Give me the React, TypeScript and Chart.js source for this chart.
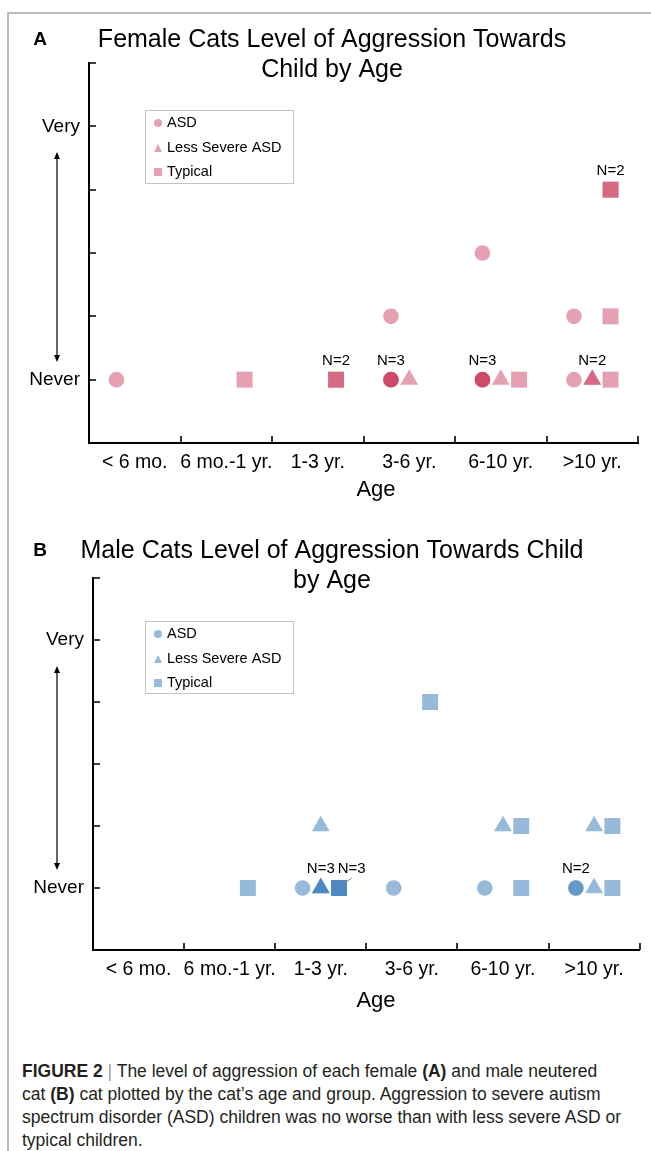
import React, { useEffect, useRef } from "react";
import { Chart, registerables } from "chart.js";

Chart.register(...registerables);

// ---------- DATA ----------
const ageCategories = ["< 6 mo.", "6 mo.-1 yr.", "1-3 yr.", "3-6 yr.", "6-10 yr.", ">10 yr."];
const levelTickLabels = ["Never", "", "", "", "Very"]; // aggression level 0 … 4
const groupNames = ["ASD", "Less Severe ASD", "Typical"];

// Female cats: one entry per cat (age category index, aggression level)
const femaleAsdAges = [0, 3, 3, 3, 3, 4, 4, 4, 4, 5, 5];
const femaleAsdLevels = [0, 0, 0, 0, 1, 0, 0, 0, 2, 0, 1];
const femaleLessAges = [3, 4, 5, 5];
const femaleLessLevels = [0, 0, 0, 0];
const femaleTypicalAges = [1, 2, 2, 4, 5, 5, 5, 5];
const femaleTypicalLevels = [0, 0, 0, 0, 0, 1, 3, 3];

// Male cats
const maleAsdAges = [2, 3, 4, 5, 5];
const maleAsdLevels = [0, 0, 0, 0, 0];
const maleLessAges = [2, 2, 2, 2, 4, 5, 5];
const maleLessLevels = [0, 0, 0, 1, 1, 0, 1];
const maleTypicalAges = [1, 2, 2, 2, 3, 4, 4, 5, 5];
const maleTypicalLevels = [0, 0, 0, 0, 3, 0, 1, 0, 1];

const femaleTitle = ["Female Cats Level of Aggression Towards", "Child by Age"];
const maleTitle = ["Male Cats Level of Aggression Towards Child", "by Age"];

// ---------- STYLE ----------
const FONT = '"Liberation Sans", Arial, Helvetica, sans-serif';
const GROUP_OFFSETS = [0.3, 0.5, 0.7];
const POINT_STYLES = ["circle", "triangle", "rect"];
const POINT_RADII = [7.8, 10.3, 11.3];
const Y_TICK_MARKS = [0, 1, 2, 3, 4, 5];
const X_TICK_MARKS = [1, 2, 3, 4, 5, 6];

type Geom = {
  canvasTop: number;
  canvasHeight: number;
  area: { left: number; right: number; top: number; bottom: number };
  letter: { x: number; y: number };
  titleX: number;
  titleY: number[];
  legend: { x: number; y: number; w: number; h: number };
  ageLabel: { x: number; y: number };
  arrow: { x: number; y1: number; y2: number };
};

type Spec = {
  letter: string;
  title: string[];
  color: string;
  ages: number[][];
  levels: number[][];
  geom: Geom;
};

const femaleSpec: Spec = {
  letter: "A",
  title: femaleTitle,
  color: "rgba(194,30,68,0.42)",
  ages: [femaleAsdAges, femaleLessAges, femaleTypicalAges],
  levels: [femaleAsdLevels, femaleLessLevels, femaleTypicalLevels],
  geom: {
    canvasTop: 0,
    canvasHeight: 512,
    area: { left: 89, right: 638, top: 63, bottom: 443 },
    letter: { x: 40, y: 40 },
    titleX: 332,
    titleY: [40, 70],
    legend: { x: 145, y: 110, w: 148, h: 73 },
    ageLabel: { x: 376, y: 490 },
    arrow: { x: 57, y1: 152, y2: 362 },
  },
};

const maleSpec: Spec = {
  letter: "B",
  title: maleTitle,
  color: "rgba(55,123,184,0.52)",
  ages: [maleAsdAges, maleLessAges, maleTypicalAges],
  levels: [maleAsdLevels, maleLessLevels, maleTypicalLevels],
  geom: {
    canvasTop: 512,
    canvasHeight: 520,
    area: { left: 93, right: 640, top: 578, bottom: 950 },
    letter: { x: 40, y: 551 },
    titleX: 332,
    titleY: [551, 581],
    legend: { x: 145, y: 621, w: 148, h: 72 },
    ageLabel: { x: 376, y: 1001 },
    arrow: { x: 57, y1: 666, y2: 870 },
  },
};

function drawMarker(ctx: CanvasRenderingContext2D, style: string, x: number, y: number, s: number) {
  ctx.beginPath();
  if (style === "circle") {
    ctx.arc(x, y, s / 2, 0, Math.PI * 2);
  } else if (style === "triangle") {
    ctx.moveTo(x, y - s / 2);
    ctx.lineTo(x + s / 2, y + s / 2);
    ctx.lineTo(x - s / 2, y + s / 2);
    ctx.closePath();
  } else {
    ctx.rect(x - s / 2, y - s / 2, s, s);
  }
  ctx.fill();
}

function decorPlugin(spec: Spec) {
  const g = spec.geom;
  const oy = g.canvasTop;
  return {
    id: "panelDecor",
    afterDraw(chart: any) {
      const ctx: CanvasRenderingContext2D = chart.ctx;
      const xs = chart.scales.x;
      const ys = chart.scales.y;
      const area = chart.chartArea;
      ctx.save();
      // inward tick marks
      ctx.strokeStyle = "#000";
      ctx.lineWidth = 1.6;
      ctx.beginPath();
      for (const v of Y_TICK_MARKS) {
        const py = Math.round(ys.getPixelForValue(v));
        ctx.moveTo(area.left, py);
        ctx.lineTo(area.left + 7, py);
      }
      for (const v of X_TICK_MARKS) {
        const px = Math.round(xs.getPixelForValue(v));
        ctx.moveTo(px, area.bottom);
        ctx.lineTo(px, area.bottom - 7);
      }
      ctx.stroke();

      // double arrow
      const ax = g.arrow.x;
      const a1 = g.arrow.y1 - oy;
      const a2 = g.arrow.y2 - oy;
      ctx.lineWidth = 1.2;
      ctx.beginPath();
      ctx.moveTo(ax, a1 + 4);
      ctx.lineTo(ax, a2 - 4);
      ctx.stroke();
      ctx.fillStyle = "#000";
      ctx.beginPath();
      ctx.moveTo(ax, a1);
      ctx.lineTo(ax + 3, a1 + 7);
      ctx.lineTo(ax - 3, a1 + 7);
      ctx.closePath();
      ctx.fill();
      ctx.beginPath();
      ctx.moveTo(ax, a2);
      ctx.lineTo(ax + 3, a2 - 7);
      ctx.lineTo(ax - 3, a2 - 7);
      ctx.closePath();
      ctx.fill();

      // panel letter & title
      ctx.fillStyle = "#000";
      ctx.textBaseline = "middle";
      ctx.textAlign = "center";
      ctx.font = `bold 19px ${FONT}`;
      ctx.fillText(spec.letter, g.letter.x, g.letter.y - oy);
      ctx.font = `25px ${FONT}`;
      spec.title.forEach((line, i) => ctx.fillText(line, g.titleX, g.titleY[i] - oy));

      // axis title
      ctx.font = `22px ${FONT}`;
      ctx.fillText("Age", g.ageLabel.x, g.ageLabel.y - oy);

      // legend
      const L = g.legend;
      ctx.strokeStyle = "#c4c4c4";
      ctx.lineWidth = 1;
      ctx.strokeRect(L.x + 0.5, L.y - oy + 0.5, L.w, L.h);
      const rowY = [13, 38, 62];
      ctx.font = `14.5px ${FONT}`;
      ctx.textAlign = "left";
      chart.data.datasets.forEach((ds: any, i: number) => {
        ctx.fillStyle = spec.color;
        drawMarker(ctx, POINT_STYLES[i], L.x + 13, L.y - oy + rowY[i], 8);
        ctx.fillStyle = "#000";
        ctx.fillText(ds.label, L.x + 22, L.y - oy + rowY[i]);
      });

      // N= labels for stacked cats
      ctx.font = `15px ${FONT}`;
      ctx.textAlign = "center";
      const items: { px: number; py: number; text: string; w: number; cx: number }[] = [];
      spec.ages.forEach((ages, gi) => {
        const counts = new Map<string, number>();
        ages.forEach((a, i) => {
          const k = `${a}|${spec.levels[gi][i]}`;
          counts.set(k, (counts.get(k) || 0) + 1);
        });
        counts.forEach((n, k) => {
          if (n < 2) return;
          const [a, l] = k.split("|").map(Number);
          const px = xs.getPixelForValue(a + GROUP_OFFSETS[gi]);
          const py = ys.getPixelForValue(l);
          const text = `N=${n}`;
          const w = ctx.measureText(text).width;
          items.push({ px, py, text, w, cx: px });
        });
      });
      items.sort((p, q) => p.py - q.py || p.px - q.px);
      for (let i = 0; i < items.length; i++) {
        const it = items[i];
        const prev = items[i - 1];
        if (prev && Math.abs(prev.py - it.py) < 1) {
          const prevRight = prev.cx + prev.w / 2;
          if (it.cx - it.w / 2 < prevRight + 3) it.cx = prevRight + 3 + it.w / 2;
        }
      }
      for (const it of items) {
        ctx.fillStyle = "#000";
        ctx.fillText(it.text, it.cx, it.py - 19);
        if (Math.abs(it.cx - it.px) > 1) {
          ctx.strokeStyle = "#8a8a8a";
          ctx.lineWidth = 1;
          ctx.beginPath();
          ctx.moveTo(it.cx, it.py - 10);
          ctx.lineTo(it.px, it.py - 1);
          ctx.stroke();
        }
      }
      ctx.restore();
    },
  };
}

function makeChart(canvas: HTMLCanvasElement, spec: Spec) {
  const g = spec.geom;
  const oy = g.canvasTop;
  const datasets = spec.ages.map((ages, gi) => ({
    label: groupNames[gi],
    data: ages.map((a, i) => ({ x: a + GROUP_OFFSETS[gi], y: spec.levels[gi][i] })),
    pointStyle: POINT_STYLES[gi],
    pointRadius: POINT_RADII[gi],
    pointHoverRadius: POINT_RADII[gi],
    pointBackgroundColor: spec.color,
    backgroundColor: spec.color,
    pointBorderWidth: 0,
    borderWidth: 0,
    showLine: false,
  }));
  const axisBorder = { display: true, color: "#000", width: 2 };
  return new Chart(canvas, {
    type: "scatter",
    data: { datasets },
    plugins: [decorPlugin(spec)],
    options: {
      responsive: false,
      animation: false,
      devicePixelRatio: 1,
      events: [],
      layout: { padding: { left: 0, right: 651 - g.area.right, top: g.area.top - oy, bottom: 0 } },
      plugins: { legend: { display: false }, title: { display: false }, tooltip: { enabled: false } },
      scales: {
        x: {
          type: "linear",
          position: "bottom",
          min: 0,
          max: ageCategories.length,
          afterFit: (s: any) => {
            s.height = oy + g.canvasHeight - g.area.bottom;
          },
          afterBuildTicks: (s: any) => {
            s.ticks = ageCategories.map((_, i) => ({ value: i + 0.5 }));
          },
          ticks: {
            autoSkip: false,
            maxRotation: 0,
            minRotation: 0,
            padding: 8,
            color: "#000",
            font: { family: FONT, size: 19.5 },
            callback: (_v: any, i: number) => ageCategories[i],
          },
          grid: { display: false, drawTicks: false },
          border: axisBorder,
        },
        y: {
          type: "linear",
          position: "left",
          min: -1,
          max: 5,
          afterFit: (s: any) => {
            s.width = g.area.left;
          },
          afterBuildTicks: (s: any) => {
            s.ticks = levelTickLabels.map((_, i) => ({ value: i }));
          },
          ticks: {
            autoSkip: false,
            padding: 9,
            color: "#000",
            font: { family: FONT, size: 19 },
            callback: (_v: any, i: number) => levelTickLabels[i],
          },
          grid: { display: false, drawTicks: false },
          border: axisBorder,
        },
      },
    } as any,
  });
}

export default function App() {
  const refA = useRef<HTMLCanvasElement>(null);
  const refB = useRef<HTMLCanvasElement>(null);
  useEffect(() => {
    const a = makeChart(refA.current!, femaleSpec);
    const b = makeChart(refB.current!, maleSpec);
    return () => {
      a.destroy();
      b.destroy();
    };
  }, []);
  const gA = femaleSpec.geom;
  const gB = maleSpec.geom;
  return (
    <div style={{ position: "absolute", left: 0, top: 0, width: 651, height: 1151, overflow: "hidden", background: "#fff" }}>
      <div
        style={{
          position: "absolute",
          left: 7,
          top: 12,
          right: 0,
          bottom: 0,
          borderTop: "2px solid #bcbcbc",
          borderLeft: "2px solid #bcbcbc",
        }}
      />
      <canvas ref={refA} width={651} height={gA.canvasHeight} style={{ position: "absolute", left: 0, top: gA.canvasTop, width: 651, height: gA.canvasHeight }} />
      <canvas ref={refB} width={651} height={gB.canvasHeight} style={{ position: "absolute", left: 0, top: gB.canvasTop, width: 651, height: gB.canvasHeight }} />
      <div
        style={{
          position: "absolute",
          left: 22,
          top: 1060,
          width: 629,
          fontFamily: FONT,
          fontSize: 17.5,
          lineHeight: "23px",
          color: "#231f20",
          whiteSpace: "nowrap",
        }}
      >
        <b>FIGURE 2</b> <span style={{ color: "#9a9a9a" }}>|</span> The level of aggression of each female <b>(A)</b> and male neutered
        <br />
        cat <b>(B)</b> cat plotted by the cat’s age and group. Aggression to severe autism
        <br />
        spectrum disorder (ASD) children was no worse than with less severe ASD or
        <br />
        typical children.
      </div>
    </div>
  );
}
